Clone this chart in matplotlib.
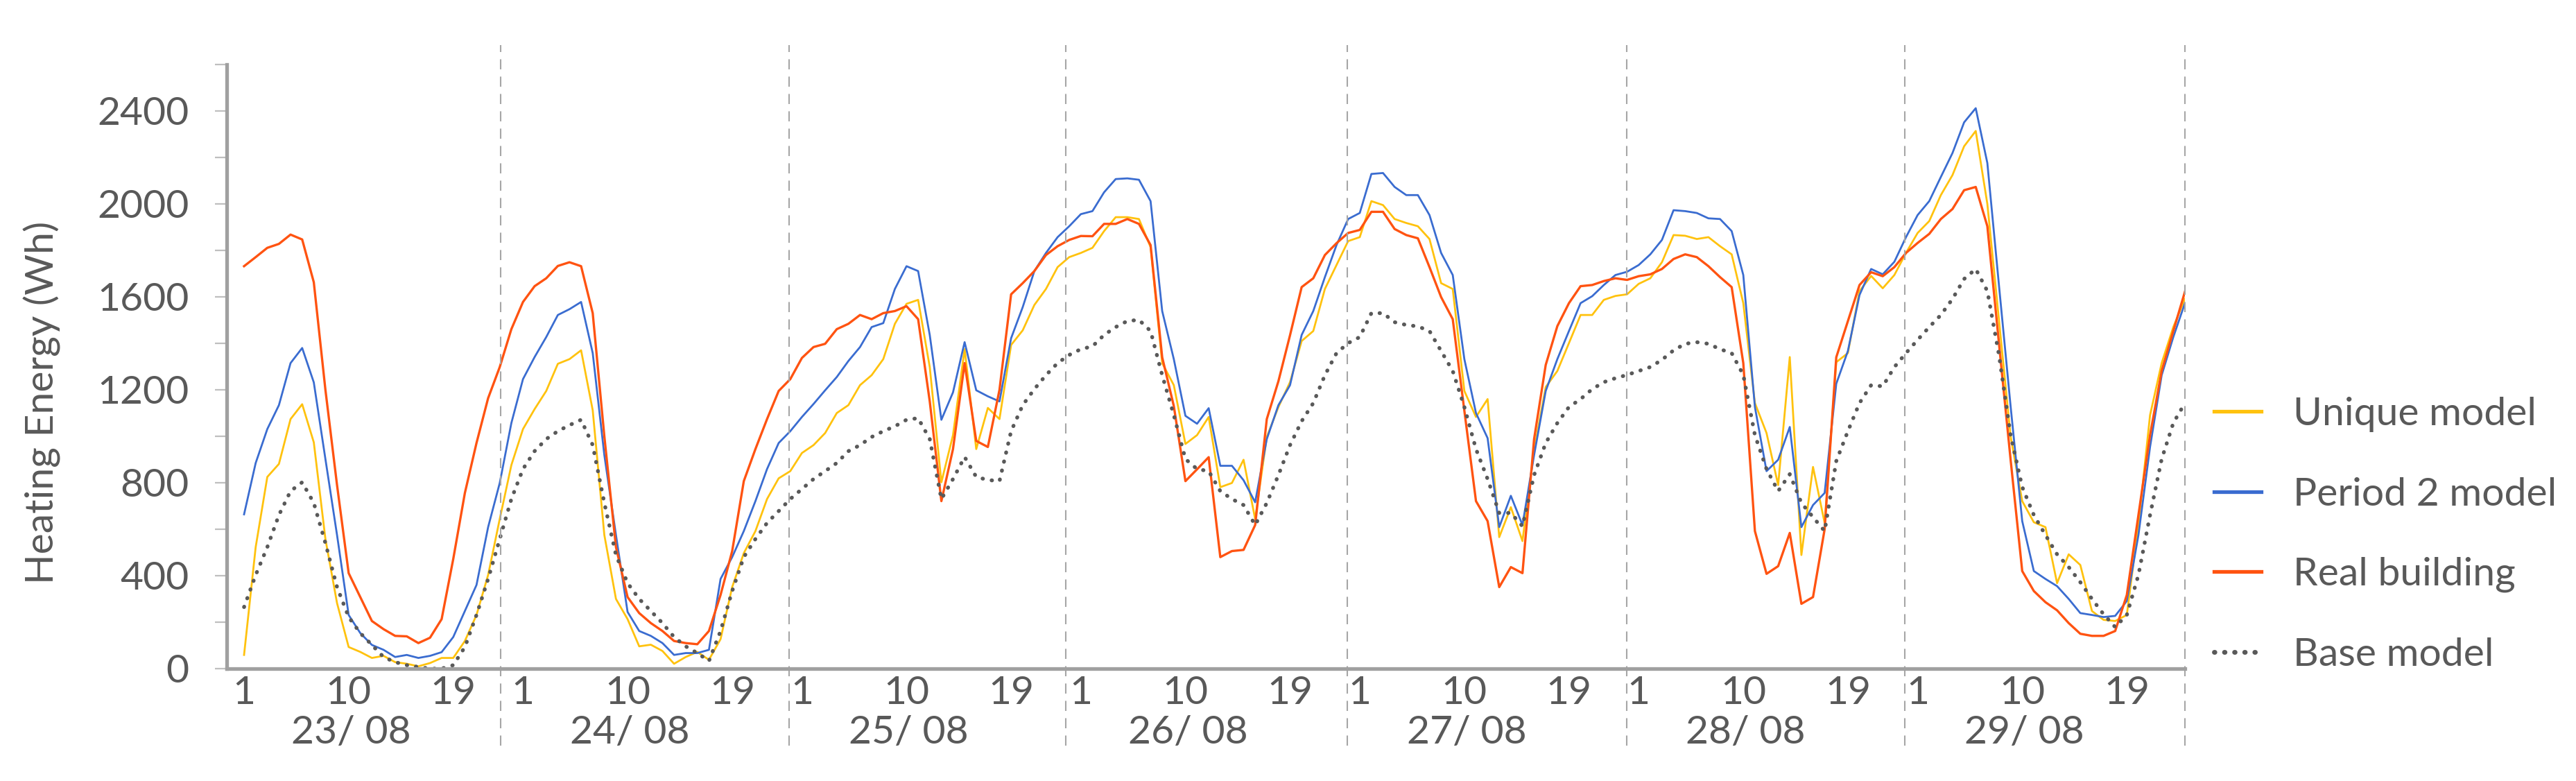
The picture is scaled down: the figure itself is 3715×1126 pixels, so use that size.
import matplotlib
matplotlib.use("Agg")
import matplotlib.pyplot as plt
import matplotlib.transforms as mtransforms
from matplotlib.lines import Line2D
from matplotlib.ticker import MultipleLocator, NullFormatter

plt.rcParams['font.family'] = ['Lato', 'DejaVu Sans']

# ----------------- data (hourly heating energy, Wh) -----------------
days = ['23/ 08', '24/ 08', '25/ 08', '26/ 08', '27/ 08', '28/ 08', '29/ 08']
hour_labels = [1, 10, 19]

unique_model = [
    59, 523, 825, 881, 1074, 1138, 974, 558, 282, 93, 72, 46, 55, 28, 21, 10, 24, 46, 46, 119, 231, 403, 644, 876,
    1031, 1117, 1195, 1312, 1332, 1370, 1112, 575, 300, 213, 96, 103, 76, 21, 50, 72, 38, 127, 351, 497, 592, 730, 819, 850,
    928, 962, 1014, 1100, 1134, 1220, 1263, 1332, 1484, 1570, 1587, 1298, 802, 1005, 1375, 945, 1122, 1074, 1393, 1456, 1565, 1634, 1728, 1771,
    1789, 1811, 1883, 1943, 1943, 1935, 1814, 1315, 1220, 967, 1005, 1083, 781, 799, 899, 644, 997, 1126, 1233, 1410, 1453, 1634, 1737, 1840,
    1857, 2012, 1995, 1935, 1918, 1904, 1849, 1659, 1634, 1195, 1083, 1160, 566, 695, 549, 940, 1212, 1281, 1401, 1522, 1522, 1587, 1604, 1611,
    1656, 1680, 1749, 1866, 1863, 1849, 1857, 1818, 1783, 1573, 1143, 1014, 790, 1341, 489, 868, 627, 1319, 1358, 1625, 1690, 1637, 1694, 1789,
    1875, 1926, 2038, 2124, 2248, 2314, 2000, 1500, 1000, 721, 630, 609, 368, 492, 446, 248, 210, 205, 231, 620, 1091, 1315, 1470, 1591,
]

period2_model = [
    664, 885, 1031, 1134, 1315, 1380, 1232, 902, 575, 231, 153, 102, 81, 50, 59, 46, 55, 71, 136, 248, 360, 609, 799, 1057,
    1246, 1341, 1427, 1522, 1547, 1578, 1358, 919, 575, 244, 162, 141, 110, 59, 67, 67, 81, 386, 480, 592, 721, 859, 971, 1022,
    1083, 1139, 1198, 1255, 1324, 1384, 1470, 1487, 1634, 1732, 1711, 1436, 1071, 1189, 1405, 1198, 1172, 1150, 1422, 1556, 1711, 1789, 1857, 1904,
    1956, 1969, 2050, 2107, 2110, 2104, 2012, 1539, 1332, 1088, 1054, 1121, 873, 873, 811, 716, 988, 1134, 1220, 1436, 1539, 1685, 1823, 1935,
    1961, 2129, 2133, 2073, 2038, 2038, 1952, 1789, 1694, 1332, 1100, 992, 609, 744, 618, 919, 1195, 1332, 1453, 1573, 1603, 1651, 1694, 1708,
    1737, 1783, 1845, 1973, 1969, 1961, 1938, 1935, 1883, 1694, 1126, 850, 899, 1040, 609, 704, 756, 1226, 1367, 1608, 1720, 1697, 1751, 1857,
    1952, 2012, 2116, 2219, 2351, 2412, 2176, 1650, 1130, 635, 420, 386, 355, 300, 239, 231, 222, 227, 291, 575, 954, 1263, 1427, 1573,
]

real_building = [
    1732, 1771, 1811, 1828, 1868, 1847, 1663, 1200, 790, 411, 308, 205, 170, 141, 139, 110, 133, 213, 472, 756, 971, 1164, 1298, 1461,
    1578, 1646, 1680, 1733, 1749, 1732, 1530, 1000, 523, 308, 239, 196, 162, 119, 110, 105, 162, 317, 506, 807, 945, 1074, 1195, 1246,
    1337, 1384, 1398, 1461, 1484, 1522, 1504, 1530, 1539, 1560, 1504, 1150, 721, 945, 1315, 980, 954, 1200, 1611, 1659, 1711, 1780, 1818, 1845,
    1862, 1861, 1914, 1914, 1935, 1914, 1823, 1340, 1130, 807, 858, 910, 480, 506, 511, 618, 1074, 1237, 1435, 1642, 1680, 1780, 1831, 1875,
    1888, 1966, 1966, 1892, 1866, 1852, 1728, 1599, 1504, 1110, 721, 635, 351, 437, 411, 988, 1307, 1474, 1573, 1646, 1651, 1668, 1680, 1673,
    1689, 1697, 1720, 1763, 1783, 1771, 1732, 1685, 1642, 1315, 592, 408, 441, 584, 279, 308, 600, 1340, 1496, 1651, 1706, 1689, 1728, 1789,
    1832, 1871, 1935, 1978, 2059, 2073, 1904, 1400, 900, 420, 334, 286, 251, 196, 150, 141, 141, 162, 317, 661, 1005, 1281, 1453, 1622,
]

base_model = [
    265, 403, 523, 661, 764, 802, 713, 540, 351, 222, 153, 102, 50, 28, 15, 7, 0, 0, 15, 93, 231, 386, 558, 730,
    859, 936, 988, 1022, 1048, 1071, 962, 713, 489, 368, 300, 248, 196, 136, 96, 67, 33, 162, 334, 480, 558, 627, 678, 730,
    773, 816, 850, 885, 936, 962, 997, 1022, 1043, 1071, 1078, 988, 730, 816, 911, 825, 812, 807, 1022, 1134, 1203, 1263, 1315, 1350,
    1375, 1387, 1436, 1470, 1496, 1501, 1453, 1263, 1091, 902, 859, 850, 764, 730, 704, 618, 713, 833, 962, 1065, 1143, 1263, 1358, 1401,
    1427, 1530, 1530, 1491, 1479, 1473, 1453, 1367, 1281, 1126, 945, 816, 670, 670, 613, 833, 971, 1057, 1126, 1160, 1203, 1233, 1250, 1264,
    1281, 1298, 1329, 1370, 1398, 1405, 1398, 1375, 1358, 1264, 1005, 859, 764, 837, 713, 652, 592, 893, 1022, 1143, 1220, 1215, 1298, 1358,
    1415, 1470, 1522, 1591, 1677, 1720, 1625, 1350, 1005, 782, 661, 575, 492, 437, 372, 300, 234, 179, 231, 403, 661, 902, 1057, 1143,
]

# day separators (dashed lines), in hour units
day_edges = [23.1, 47.9, 71.7, 95.9, 120, 143.9, 168]

hours = list(range(1, len(real_building) + 1))

# ----------------- style -----------------
c_unique = '#FFC20E'
c_period = '#3A6CD0'
c_real = '#FF5311'
c_base = '#595959'
c_text = '#595959'
fs = 41

fig = plt.figure(figsize=(37.16, 11.26), dpi=100)
ax = fig.add_axes([327/3716, 1-964/1126, (3151-327)/3716, (964-93)/1126])

ax.plot(hours, unique_model, color=c_unique, lw=2.0)
ax.plot(hours, period2_model, color=c_period, lw=2.0)
ax.plot(hours, real_building, color=c_real, lw=2.4)
ax.plot(hours, base_model, color=c_base, lw=4.0,
        linestyle=(0, (0.1, 2.3)), dash_capstyle='round')

ax.set_xlim(-0.49, 168)
ax.set_ylim(0, 2600)

# axes look (excel-like)
for s in ['top', 'right']:
    ax.spines[s].set_visible(False)
for s in ['left', 'bottom']:
    ax.spines[s].set_color('#A0A0A0')
    ax.spines[s].set_linewidth(3.8)

ax.yaxis.set_major_locator(MultipleLocator(400))
ax.yaxis.set_minor_locator(MultipleLocator(200))
ax.yaxis.set_minor_formatter(NullFormatter())
ax.tick_params(axis='y', which='both', length=12, width=1.6, color='#BFBFBF',
               labelsize=fs, labelcolor=c_text, pad=27)

# hour labels of each day
xt = []
xl = []
for k in range(len(days)):
    for h in hour_labels:
        xt.append(24*k + h)
        xl.append(str(h))
ax.set_xticks(xt)
ax.set_xticklabels(xl)
ax.tick_params(axis='x', length=0, labelsize=fs, labelcolor=c_text, pad=7)

# day labels below the hours
trans = mtransforms.blended_transform_factory(ax.transData, ax.transAxes)
for k, d in enumerate(days):
    ax.text(24*k + 10.2, -0.106, d, transform=trans, ha='center', va='center',
            fontsize=fs, color=c_text)

# dashed separators between days
for xe in day_edges:
    ax.plot([xe, xe], [-0.127, 1.032], transform=trans, clip_on=False,
            color='#A6A6A6', lw=1.5, linestyle=(0, (7, 5)))

fig.text(61/3716, 1-580/1126, 'Heating Energy (Wh)', rotation=90,
         ha='center', va='center', fontsize=fs, color=c_text)

# legend
handles = [Line2D([], [], color=c_unique, lw=3.8),
           Line2D([], [], color=c_period, lw=3.8),
           Line2D([], [], color=c_real, lw=3.8),
           Line2D([], [], color=c_base, lw=5.0, linestyle=(0, (0.1, 2.0)),
                  dash_capstyle='round')]
labels = ['Unique model', 'Period 2 model', 'Real building', 'Base model']
leg = fig.legend(handles, labels, loc='center left',
                 bbox_to_anchor=(3193/3716, 1-771/1126), frameon=False,
                 borderpad=0, borderaxespad=0, handlelength=1.2,
                 handletextpad=0.8, labelspacing=1.13, fontsize=fs)
for t in leg.get_texts():
    t.set_color(c_text)

fig.savefig('out.png', dpi=100)
